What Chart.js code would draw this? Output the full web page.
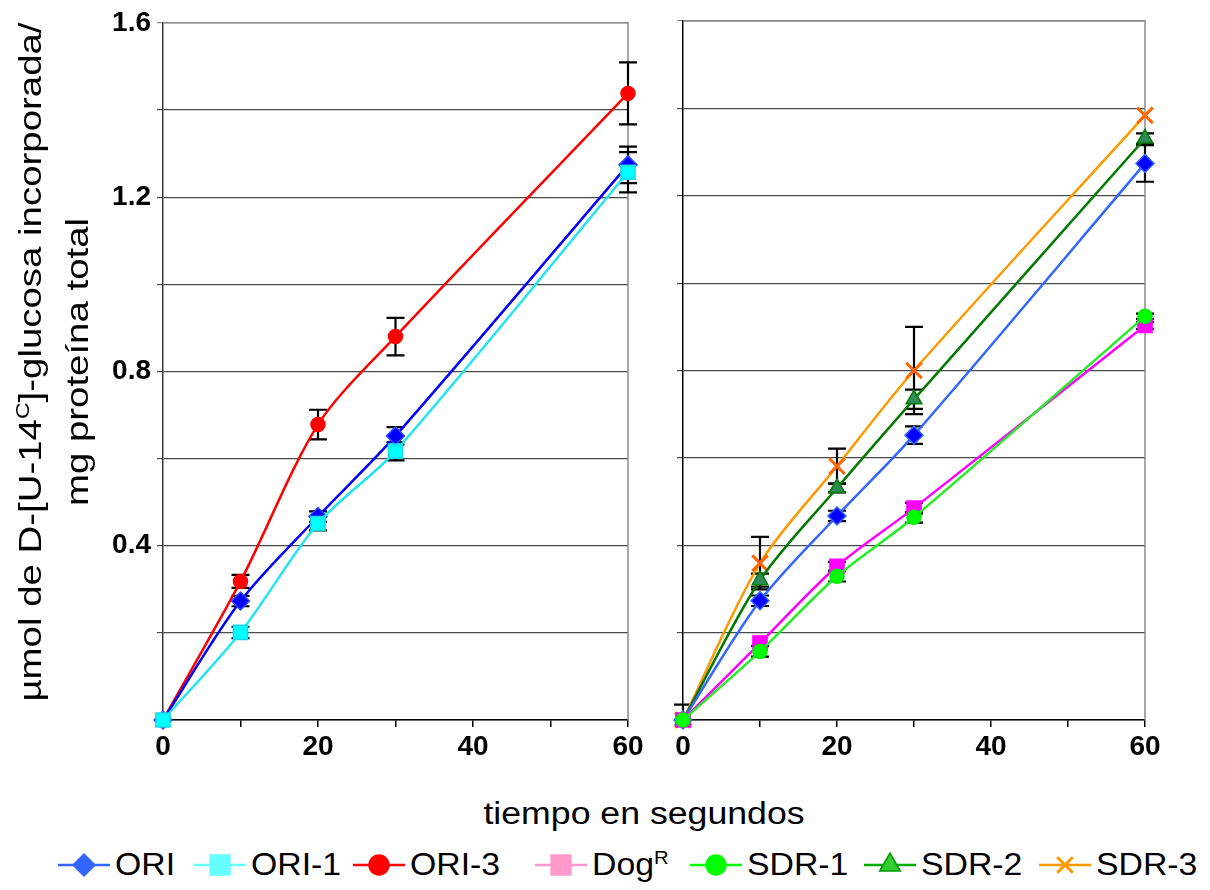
<!DOCTYPE html>
<html>
<head>
<meta charset="utf-8">
<title>Incorporación de glucosa</title>
<script src="https://cdn.jsdelivr.net/npm/chart.js@4/dist/chart.umd.min.js"></script>
<style>
  html, body { margin: 0; padding: 0; background: #fff; }
  body { width: 1210px; height: 890px; position: relative; overflow: hidden;
         font-family: "Liberation Sans", Arial, sans-serif; color: #000; }
  #left { position: absolute; left: 0; top: 0; }
  #right { position: absolute; left: 650px; top: 0; }
  #ytitle { position: absolute; left: -306px; top: 317px; width: 720px;
            font-size: 32px; line-height: 43px; text-align: center; white-space: nowrap;
            transform: rotate(-90deg) scale(1.2, 1); }
  #ytitle sup, .leg sup { font-size: 60%; vertical-align: 0; position: relative; top: -0.6em; }
  #xtitle { position: absolute; left: 644px; top: 794px; font-size: 31px; line-height: 40px;
            white-space: nowrap; transform: translateX(-50%) scale(1.15, 1); }
  .leg { position: absolute; top: 845px; height: 40px; white-space: nowrap; }
  .leg canvas { position: absolute; left: 0; top: 0; }
  .leg span { position: absolute; left: 57px; top: 0; font-size: 31px; line-height: 40px;
              transform-origin: left center; transform: scale(1.09, 1); }
</style>
</head>
<body>
<canvas id="left" width="650" height="780"></canvas>
<canvas id="right" width="560" height="780"></canvas>
<div id="ytitle">µmol de D-[U-14<sup>C</sup>]-glucosa incorporada/<br>mg proteína total</div>
<div id="xtitle">tiempo en segundos</div>
<div id="legend"></div>

<script>
// tiempo (s)
const time = [0, 10, 20, 30, 60];

// left panel
const ori     = [0, 0.273, 0.467, 0.652, 1.274];
const oriErr  = [0, 0.012, 0.012, 0.020, 0.042];
const ori1    = [0, 0.201, 0.451, 0.617, 1.257];
const ori1Err = [0, 0.013, 0.016, 0.021, 0.046];
const ori3    = [0, 0.318, 0.678, 0.880, 1.438];
const ori3Err = [0, 0.015, 0.034, 0.043, 0.071];

// right panel
const dogR    = [0, 0.176, 0.352, 0.485, 0.903];
const dogRErr = [0, 0, 0.010, 0.012, 0.008];
const sdr1    = [0, 0.157, 0.329, 0.464, 0.924];
const sdr1Err = [0, 0.012, 0.012, 0.012, 0.006];
const sdr2    = [0, 0.320, 0.531, 0.734, 1.331];
const sdr2Err = [0, 0.015, 0.010, 0.022, 0.012];
const sdr3    = [0, 0.359, 0.581, 0.800, 1.384];
const sdr3Err = [0.035, 0.060, 0.040, 0.100, 0];

// axis ticks
const xTickLabels = [0, 20, 40, 60];
const yTickLabels = [0.4, 0.8, 1.2, 1.6];

// legend
const legendNames = ['ORI', 'ORI-1', 'ORI-3', 'Dog<sup>R</sup>', 'SDR-1', 'SDR-2', 'SDR-3'];

const FONT = '"Liberation Sans", Arial, sans-serif';

function pts(values) {
  return time.map((t, i) => ({ x: t, y: values[i] }));
}

function series(label, values, errors, style) {
  return Object.assign({
    label: label,
    data: pts(values),
    errors: errors,
    borderWidth: 2.5,
    pointBorderWidth: 1.5,
    tension: 0.3,
    clip: false
  }, style);
}

// error bars drawn through the chart's own scales
const errorBars = {
  id: 'errorBars',
  beforeDatasetsDraw(chart) {
    const ctx = chart.ctx;
    const yScale = chart.scales.y;
    ctx.save();
    ctx.strokeStyle = '#000';
    ctx.lineWidth = 2.2;
    chart.data.datasets.forEach((ds, di) => {
      const meta = chart.getDatasetMeta(di);
      (ds.errors || []).forEach((e, i) => {
        if (!e) return;
        const el = meta.data[i];
        const v = ds.data[i].y;
        const top = yScale.getPixelForValue(v + e);
        const bot = yScale.getPixelForValue(Math.max(0, v - e));
        ctx.beginPath();
        ctx.moveTo(el.x, top); ctx.lineTo(el.x, bot);
        ctx.moveTo(el.x - 9, top); ctx.lineTo(el.x + 9, top);
        if (v - e > 0) { ctx.moveTo(el.x - 9, bot); ctx.lineTo(el.x + 9, bot); }
        ctx.stroke();
      });
    });
    ctx.restore();
  }
};

// gray top / right frame of the plot area
const frame = {
  id: 'frame',
  beforeDatasetsDraw(chart) {
    const a = chart.chartArea;
    const ctx = chart.ctx;
    ctx.save();
    ctx.strokeStyle = '#8a8a8a';
    ctx.lineWidth = 1.5;
    ctx.beginPath();
    ctx.moveTo(a.left, a.top); ctx.lineTo(a.right, a.top); ctx.lineTo(a.right, a.bottom);
    ctx.stroke();
    ctx.restore();
  }
};

function options(yWidth, padRight, showYLabels, yAxisColor) {
  return {
    responsive: false,
    animation: false,
    layout: { padding: { top: 21, right: padRight, bottom: 0, left: 0 } },
    plugins: { legend: { display: false }, tooltip: { enabled: false } },
    scales: {
      x: {
        type: 'linear', min: 0, max: 60,
        afterFit: s => { s.height = 60; },
        afterBuildTicks: s => { s.ticks = [0, 10, 20, 30, 40, 50, 60].map(v => ({ value: v })); },
        ticks: {
          autoSkip: false, maxRotation: 0, padding: 3, color: '#000',
          font: { family: FONT, size: 28, weight: 'bold' },
          callback: v => xTickLabels.includes(v) ? String(v) : ''
        },
        grid: { drawOnChartArea: false, drawTicks: true, tickLength: 7, color: '#000', lineWidth: 1.5 },
        border: { color: '#000', width: 1.5 }
      },
      y: {
        min: 0, max: 1.6,
        afterFit: s => { s.width = yWidth; },
        afterBuildTicks: s => { s.ticks = [0, 0.2, 0.4, 0.6, 0.8, 1.0, 1.2, 1.4, 1.6].map(v => ({ value: v })); },
        ticks: {
          display: showYLabels, autoSkip: false, padding: 6, color: '#000',
          font: { family: FONT, size: 28, weight: 'bold' },
          callback: v => yTickLabels.some(t => Math.abs(t - v) < 1e-6) ? v.toFixed(1) : ''
        },
        grid: {
          drawTicks: true, tickLength: 6, lineWidth: 1.2,
          color: c => (c.tick && c.tick.value > 1.55) ? '#8a8a8a' : '#4a4a4a'
        },
        border: { color: yAxisColor, width: 1.5 }
      }
    }
  };
}

new Chart(document.getElementById('left'), {
  type: 'line',
  data: {
    datasets: [
      series('ORI-1', ori1, ori1Err, { borderColor: '#22e4f2', pointBackgroundColor: '#00ffff', pointBorderColor: '#1ed8e8', pointStyle: 'rect', pointRadius: 10 }),
      series('ORI', ori, oriErr, { borderColor: '#0000ff', pointBackgroundColor: '#0000ff', pointBorderColor: '#2a4bff', pointStyle: 'rectRot', pointRadius: 9 }),
      series('ORI-3', ori3, ori3Err, { borderColor: '#ff0000', pointBackgroundColor: '#ff0000', pointBorderColor: '#ff0000', pointStyle: 'circle', pointRadius: 7 })
    ]
  },
  options: options(163, 22, true, '#3a3a3a'),
  plugins: [frame, errorBars]
});

new Chart(document.getElementById('right'), {
  type: 'line',
  data: {
    datasets: [
      series('SDR-1', sdr1, sdr1Err, { borderColor: '#22ee22', pointBackgroundColor: '#00ff00', pointBorderColor: '#00ee00', pointStyle: 'circle', pointRadius: 7 }),
      series('DogR', dogR, dogRErr, { borderColor: '#ff00ff', pointBackgroundColor: '#ff00ff', pointBorderColor: '#ff00ff', pointStyle: 'rect', pointRadius: 10 }),
      series('ORI', ori, oriErr, { borderColor: '#3366ff', pointBackgroundColor: '#0000ff', pointBorderColor: '#3366ff', pointStyle: 'rectRot', pointRadius: 9 }),
      series('SDR-2', sdr2, sdr2Err, { borderColor: '#007a00', pointBackgroundColor: '#2e8b57', pointBorderColor: '#007a00', pointStyle: 'triangle', pointRadius: 9 }),
      series('SDR-3', sdr3, sdr3Err, { borderColor: '#ff9900', pointBackgroundColor: '#ff6600', pointBorderColor: '#ff6600', pointStyle: 'crossRot', pointRadius: 11, pointBorderWidth: 3 })
    ]
  },
  options: options(33, 65, false, '#000'),
  plugins: [frame, errorBars]
});

// legend
const legendX = [58, 194, 353, 535, 690, 864, 1039];
const legendLine = ['#3366ff', '#66ffff', '#ff0000', '#ff99cc', '#00ff00', '#00aa00', '#ff9900'];
const legendFill = ['#3366ff', '#66ffff', '#ff0000', '#ff99cc', '#00ff00', '#33cc33', '#ff9900'];
const legendEdge = ['#3366ff', '#66ffff', '#ff0000', '#ff99cc', '#00ff00', '#009900', '#ff9900'];
const legendStyle = ['rectRot', 'rect', 'circle', 'rect', 'circle', 'triangle', 'crossRot'];
const legendRadius = [11, 14, 10, 14, 10, 12, 11];

const legendEl = document.getElementById('legend');
legendNames.forEach((name, i) => {
  const item = document.createElement('div');
  item.className = 'leg';
  item.style.left = legendX[i] + 'px';
  const c = document.createElement('canvas');
  c.width = 52; c.height = 40;
  const span = document.createElement('span');
  span.innerHTML = name;
  item.appendChild(c);
  item.appendChild(span);
  legendEl.appendChild(item);

  const ctx = c.getContext('2d');
  ctx.strokeStyle = legendLine[i];
  ctx.lineWidth = 2.5;
  ctx.beginPath(); ctx.moveTo(0, 20); ctx.lineTo(52, 20); ctx.stroke();
  ctx.fillStyle = legendFill[i];
  ctx.strokeStyle = legendEdge[i];
  ctx.lineWidth = legendStyle[i] === 'crossRot' ? 3 : 1.5;
  Chart.helpers.drawPoint(ctx, { pointStyle: legendStyle[i], radius: legendRadius[i], rotation: 0, borderWidth: ctx.lineWidth }, 26, 20);
});
</script>
</body>
</html>
